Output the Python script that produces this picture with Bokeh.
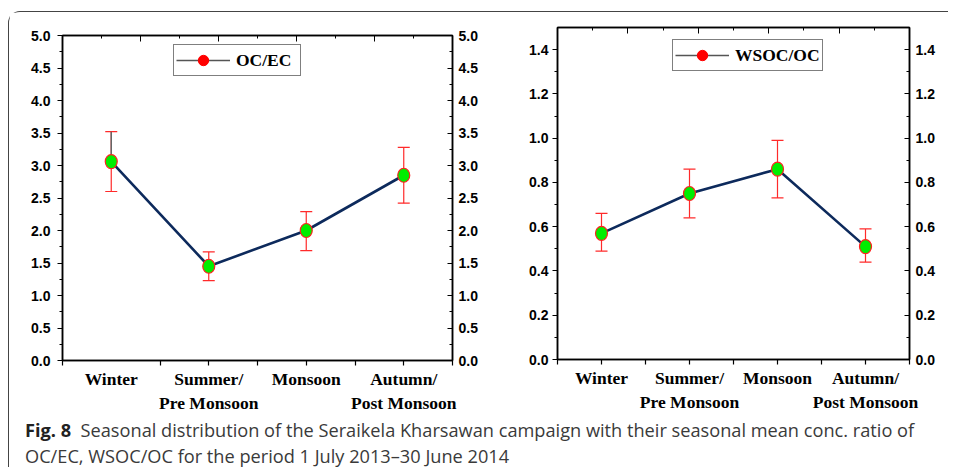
from bokeh.plotting import figure
from bokeh.models import (Range1d, FixedTicker, LinearAxis, PrintfTickFormatter,
                          CustomJSTickFormatter, ColumnDataSource, Whisker, TeeHead,
                          Legend, LegendItem, Div)
from bokeh.layouts import row, column
from bokeh.embed import file_html
from bokeh.resources import INLINE

# ---------------- data ----------------
seasons = ["Winter", "Summer/\nPre Monsoon", "Monsoon", "Autumn/\nPost Monsoon"]
season_pos = [1, 2, 3, 4]

oc_ec_mean = [3.06, 1.45, 2.00, 2.85]
oc_ec_upper = [3.52, 1.67, 2.29, 3.28]
oc_ec_lower = [2.60, 1.23, 1.69, 2.42]

wsoc_oc_mean = [0.57, 0.75, 0.86, 0.51]
wsoc_oc_upper = [0.66, 0.86, 0.99, 0.59]
wsoc_oc_lower = [0.49, 0.64, 0.73, 0.44]

left_y_ticks = [0.0, 0.5, 1.0, 1.5, 2.0, 2.5, 3.0, 3.5, 4.0, 4.5, 5.0]
left_y_minor = [0.25, 0.75, 1.25, 1.75, 2.25, 2.75, 3.25, 3.75, 4.25, 4.75]
right_y_ticks = [0.0, 0.2, 0.4, 0.6, 0.8, 1.0, 1.2, 1.4]
right_y_minor = [0.1, 0.3, 0.5, 0.7, 0.9, 1.1, 1.3]

left_x_ticks = [0.5, 1.5, 2.0, 2.5, 3.0, 3.5, 4.0, 4.5]
right_x_ticks = [0.5, 1.0, 1.5, 2.0, 2.5, 3.0, 3.5, 4.0, 4.5]
top_major = [1.3, 2.1, 2.9, 3.7]
top_minor = [0.9, 1.7, 2.5, 3.3, 4.1]

LINE_COLOR = "#0d2a5c"
ERR_COLOR = "#ff2a2a"
TICK_FONT = "Liberation Sans"
CAT_FONT = "Liberation Serif"
NAN = float("nan")


def make_panel(name, mean, upper, lower, y_end, y_ticks, y_minor, x_ticks,
               width, height, b_left, b_right, b_top, b_bottom, legend_xy,
               y_standoff, label_w, grey_first_upper=False):
    p = figure(width=width, height=height, output_backend="svg", toolbar_location=None,
               x_range=Range1d(0.5, 4.5), y_range=Range1d(0, y_end),
               min_border_left=b_left, min_border_right=b_right,
               min_border_top=b_top, min_border_bottom=b_bottom,
               x_axis_location=None, y_axis_location=None)
    p.grid.visible = False
    p.outline_line_color = "black"
    p.outline_line_width = 1.5
    p.background_fill_color = "white"
    p.border_fill_color = "white"

    # bottom axis with category labels
    xb = LinearAxis(ticker=FixedTicker(ticks=season_pos, minor_ticks=x_ticks))
    xb.major_label_overrides = {k: v for k, v in zip(season_pos, seasons)}
    xb.major_tick_out = 0
    xb.major_tick_in = 0
    xb.minor_tick_out = 5
    xb.minor_tick_in = 0
    xb.major_label_standoff = 3
    xb.major_label_text_font = CAT_FONT
    xb.major_label_text_font_style = "bold"
    xb.major_label_text_font_size = "17.5px"
    xb.major_label_text_color = "black"
    xb.axis_line_width = 1.5
    xb.minor_tick_line_width = 1.2
    p.add_layout(xb, "below")

    # top axis (ticks only)
    xt = LinearAxis(ticker=FixedTicker(ticks=top_major, minor_ticks=top_minor),
                    formatter=CustomJSTickFormatter(code="return ''"))
    xt.major_label_standoff = 0
    xt.major_label_text_font_size = "2px"
    xt.major_tick_out = 0
    xt.major_tick_in = 6
    xt.minor_tick_out = 0
    xt.minor_tick_in = 3
    xt.axis_line_width = 1.5
    p.add_layout(xt, "above")

    fmt = PrintfTickFormatter(format="%.1f")
    for side in ("left", "right"):
        ya = LinearAxis(ticker=FixedTicker(ticks=y_ticks, minor_ticks=y_minor), formatter=fmt)
        ya.major_label_text_font = TICK_FONT
        ya.major_label_text_font_style = "bold"
        ya.major_label_text_font_size = "14px"
        ya.major_label_text_color = "black"
        ya.axis_line_width = 1.5
        ya.major_tick_line_width = 1.2
        ya.minor_tick_line_width = 1.2
        if side == "left":
            ya.major_tick_out = 5
            ya.major_tick_in = 0
            ya.minor_tick_out = 3
            ya.minor_tick_in = 0
            ya.major_label_standoff = y_standoff
        else:
            ya.major_tick_out = 0
            ya.major_tick_in = 5
            ya.minor_tick_out = 0
            ya.minor_tick_in = 3
            ya.major_label_standoff = 6
        p.add_layout(ya, side)

    src = ColumnDataSource(dict(x=season_pos, y=mean, upper=upper, lower=lower))
    w = Whisker(base="x", upper="upper", lower="lower", source=src, dimension="height",
                line_color=ERR_COLOR, line_width=1.2,
                upper_head=TeeHead(size=12, line_color=ERR_COLOR, line_width=1.2),
                lower_head=TeeHead(size=12, line_color=ERR_COLOR, line_width=1.2))
    p.add_layout(w)

    if grey_first_upper:
        p.segment(x0=season_pos[:1], y0=mean[:1], x1=season_pos[:1], y1=upper[:1],
                  line_color="#666666", line_width=1.5)

    p.line("x", "y", source=src, line_color=LINE_COLOR, line_width=2.6)
    p.ellipse("x", "y", width=12, height=14, width_units="screen", height_units="screen",
              source=src, fill_color="#00ee00", line_color="#ff2020", line_width=1.2)

    leg_line = p.line(x=[NAN], y=[NAN], line_color="#555555", line_width=1.5)
    leg_dot = p.scatter(x=[NAN], y=[NAN], size=12, fill_color="#ff0000", line_color="#ff0000")
    legend = Legend(items=[LegendItem(label=name, renderers=[leg_line, leg_dot])],
                    location=legend_xy, orientation="vertical",
                    border_line_color="black", border_line_width=1.2,
                    background_fill_color="white", background_fill_alpha=1,
                    label_text_font=CAT_FONT, label_text_font_style="bold",
                    label_text_font_size="17.5px", label_text_color="black",
                    glyph_width=54, glyph_height=26, label_standoff=6,
                    label_width=label_w, padding=2, margin=0, spacing=0, label_height=20)
    p.add_layout(legend, "center")
    return p


# left panel: frame x 62..452, y 35..360 (page coords)
p1 = make_panel("OC/EC", oc_ec_mean, oc_ec_upper, oc_ec_lower, 5.0,
                left_y_ticks, left_y_minor, left_x_ticks,
                width=496, height=404, b_left=53, b_right=53, b_top=23, b_bottom=56,
                legend_xy=(111, 325 - 11 - 30), y_standoff=7, label_w=62,
                grey_first_upper=True)

# right panel: frame x 557..909, y 27..359
p2 = make_panel("WSOC/OC", wsoc_oc_mean, wsoc_oc_upper, wsoc_oc_lower, 1.5,
                right_y_ticks, right_y_minor, right_x_ticks,
                width=443, height=404, b_left=52, b_right=39, b_top=15, b_bottom=57,
                legend_xy=(115, 332 - 14 - 30), y_standoff=4, label_w=82)

caption = Div(
    text=('<span style="font-weight:700;color:#222">Fig. 8</span>&nbsp;&nbsp;Seasonal distribution of the '
          'Seraikela Kharsawan campaign with their seasonal mean conc. ratio of<br>'
          'OC/EC, WSOC/OC for the period 1 July 2013\u201330 June 2014'),
    width=935, height=50, margin=(1, 0, 0, 0),
    styles={"font-family": "'Open Sans'", "font-size": "18.2px", "line-height": "26px",
            "color": "#3a3a3a", "padding-left": "16px"})

layout = column(row(column(p1), column(p2)), caption, margin=(11, 0, 0, 8),
                styles={"border-left": "1.5px solid #444", "border-top": "1.5px solid #444",
                        "border-top-left-radius": "12px"})

with open("out.html", "w") as f:
    f.write(file_html(layout, INLINE))
